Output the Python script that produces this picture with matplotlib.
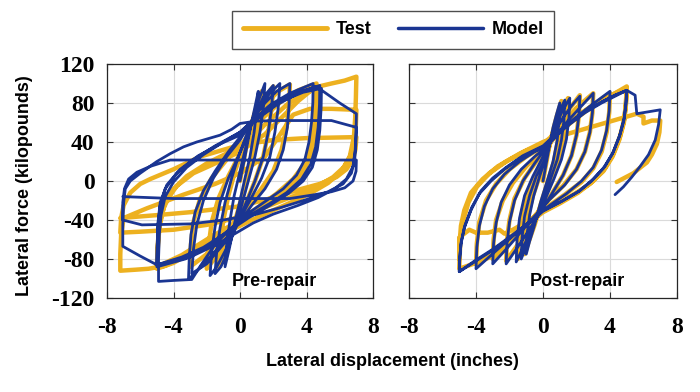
import matplotlib
matplotlib.use("Agg")
import matplotlib.pyplot as plt

plt.rcParams["axes.unicode_minus"] = False

# ---------------- data (x = inches, y = kips) ----------------
pre_test = [
    (0, 0),
    (0.4, 38), (0.8, 65), (1.3, 92), (1.2, 70), (1.0, 45), (0.7, 20), (0.3, -5), (-0.2, -35),
    (-0.7, -62), (-1.3, -88), (-1.2, -65), (-1.0, -40), (-0.7, -15), (-0.3, 10), (0.1, 30),
    (0.6, 55), (1.2, 78), (2.0, 97), (1.9, 75), (1.7, 50), (1.4, 25), (0.9, 0), (0.3, -25),
    (-0.4, -50), (-1.2, -72), (-2.0, -90), (-1.9, -68), (-1.7, -42), (-1.3, -18), (-0.7, 5), (0, 28),
    (0.7, 55), (1.6, 80), (2.3, 92), (3.0, 99), (2.95, 78), (2.8, 55), (2.5, 32), (2.0, 10),
    (1.2, -10), (0.2, -32), (-0.9, -55), (-2.0, -75), (-3.0, -88), (-2.95, -65), (-2.8, -42),
    (-2.4, -18), (-1.7, 3), (-0.8, 22), (0.2, 40),
    (1.2, 62), (2.5, 82), (3.5, 93), (4.6, 100), (4.55, 80), (4.45, 58), (4.25, 37), (3.9, 18),
    (3.2, 2), (2.2, -13), (1.0, -28), (-0.2, -42), (-1.5, -58), (-3.0, -74), (-4.0, -84), (-5.0, -90),
    (-4.95, -70), (-4.85, -48), (-4.6, -28), (-4.1, -10), (-3.2, 5), (-2.0, 18), (-0.6, 30), (0.5, 40),
    (1.5, 58), (2.8, 78), (3.8, 90), (4.7, 95), (4.65, 75), (4.55, 52), (4.3, 30), (3.9, 12),
    (3.2, -3), (2.2, -16), (1.0, -30), (-0.5, -45), (-2.0, -60), (-3.5, -76), (-5.0, -88),
    (-4.95, -66), (-4.85, -44), (-4.5, -22), (-3.8, -5), (-2.8, 8), (-1.5, 18), (0, 30),
    (1.5, 48), (2.5, 65), (3.5, 82), (4.5, 96), (5.5, 100), (6.3, 103), (7.0, 107),
    (6.97, 85), (6.93, 65), (6.85, 45), (6.6, 25), (6.1, 10), (5.3, -2), (4.2, -13), (2.8, -24),
    (1.2, -36), (-0.5, -50), (-2.0, -64), (-3.5, -78), (-4.5, -87), (-5.5, -90), (-6.3, -91),
    (-7.2, -92), (-7.2, -75), (-7.15, -55), (-7.0, -38), (-5.6, -28), (-3.4, -14), (-1.5, -3),
    (0, 8), (1.5, 25), (2.5, 50), (3.2, 68), (4.2, 74), (5.5, 74), (7.0, 73),
    (6.97, 58), (6.9, 43), (6.7, 28), (6.3, 15), (5.6, 4), (4.5, -7), (3.0, -17), (1.5, -27),
    (0, -37), (-2.0, -45), (-4.0, -50), (-6.0, -52), (-7.2, -53), (-7.15, -38), (-7.0, -25),
    (-6.6, -12), (-6.0, -3), (-5.4, 2), (-4.0, 12), (-2.4, 25), (-1.0, 32), (0, 37), (2.0, 42),
    (4.0, 44), (7.0, 45),
    (6.95, 33), (6.8, 22), (6.4, 12), (5.8, 4), (4.8, -3), (3.5, -9), (2.0, -17), (0, -26),
    (-3.0, -32), (-5.0, -35), (-7.2, -38),
]

pre_model = [
    (0, 0),
    (0.3, 25), (0.6, 52), (0.9, 76), (1.1, 92), (1.0, 72), (0.85, 50), (0.6, 25), (0.3, 3), (0, -20),
    (-0.35, -45), (-0.65, -70), (-0.9, -88), (-0.8, -65), (-0.6, -40), (-0.35, -15), (0, 10),
    (0.35, 35), (0.7, 60), (1.1, 82), (1.5, 100), (1.4, 75), (1.2, 50), (0.9, 25), (0.5, 0),
    (0.1, -25), (-0.35, -50), (-0.8, -75), (-1.15, -88), (-1.5, -95), (-1.4, -72), (-1.2, -48),
    (-0.9, -22), (-0.5, 3), (-0.1, 25),
    (0.4, 45), (0.9, 68), (1.4, 86), (2.0, 98), (1.9, 75), (1.7, 50), (1.4, 25), (0.9, 0),
    (0.3, -25), (-0.3, -50), (-0.9, -72), (-1.4, -88), (-1.8, -97), (-1.7, -72), (-1.5, -47),
    (-1.2, -22), (-0.7, 3), (-0.1, 25),
    (0.5, 52), (1.1, 74), (1.8, 90), (2.4, 100), (2.3, 75), (2.1, 50), (1.8, 25), (1.3, 3),
    (0.6, -20), (-0.2, -45), (-1.0, -65), (-2.0, -85), (-2.9, -95), (-2.8, -70), (-2.6, -45),
    (-2.2, -20), (-1.6, 3), (-0.8, 25), (0, 42),
    (0.7, 62), (1.5, 80), (2.2, 92), (3.0, 100), (2.95, 78), (2.85, 55), (2.6, 32), (2.2, 12),
    (1.5, -8), (0.7, -25), (0, -42), (-0.8, -58), (-1.8, -78), (-3.1, -101), (-3.05, -78),
    (-2.95, -55), (-2.7, -32), (-2.2, -10), (-1.5, 10), (-0.7, 30), (0, 45),
    (0.8, 62), (1.8, 78), (3.0, 90), (4.4, 100), (4.38, 80), (4.3, 60), (4.15, 40), (3.9, 22),
    (3.4, 6), (2.6, -8), (1.6, -20), (0.5, -33), (-0.5, -48), (-1.5, -65), (-2.3, -85),
    (-2.9, -101), (-4.0, -102), (-4.9, -103), (-4.9, -80), (-4.85, -55), (-4.75, -35), (-4.5, -16),
    (-4.0, -1), (-3.2, 14), (-2.2, 27), (-1.0, 40), (0, 50),
    (1.0, 66), (2.2, 80), (3.5, 91), (4.8, 98), (4.78, 78), (4.7, 55), (4.55, 35), (4.25, 17),
    (3.7, 2), (2.8, -12), (1.8, -23), (0.5, -36), (-0.8, -52), (-2.0, -68), (-3.3, -80), (-5.0, -88),
    (-4.98, -68), (-4.93, -45), (-4.8, -25), (-4.5, -8), (-3.8, 8), (-2.8, 22), (-1.5, 36), (0, 50),
    (1.2, 68), (2.5, 82), (3.8, 91), (4.9, 95), (4.88, 75), (4.8, 52), (4.65, 32), (4.35, 14),
    (3.8, 0), (2.9, -13), (1.8, -25), (0.5, -38), (-1.0, -55), (-2.2, -68), (-3.5, -78), (-5.0, -86),
    (-4.98, -65), (-4.93, -42), (-4.8, -22), (-4.4, -4), (-3.6, 12), (-2.5, 26), (-1.2, 38), (0, 47),
    (1.0, 63), (2.2, 78), (3.5, 90), (4.6, 97), (5.0, 92), (6.0, 80), (7.0, 69), (6.98, 50),
    (6.93, 32), (6.8, 15), (6.4, 2), (5.7, -8), (4.7, -17), (3.5, -25), (2.0, -34), (0.8, -43),
    (-0.4, -55), (-1.5, -66), (-3.0, -78), (-5.0, -86), (-6.0, -77), (-7.05, -67),
    (-7.05, -45), (-7.02, -25), (-6.9, -8), (-6.6, 0), (-6.0, 8), (-5.0, 20), (-4.2, 28),
    (-3.4, 35), (-2.6, 40), (-1.2, 47), (-0.5, 53), (0, 59), (1.0, 61.5), (2.5, 62), (5.5, 62),
    (7.0, 55), (6.97, 38), (6.9, 22), (6.7, 8), (6.2, -3), (5.3, -11), (4.0, -19), (2.5, -27),
    (1.0, -34), (-1.0, -40), (-3.0, -44), (-5.9, -45), (-7.05, -40), (-7.05, -22), (-6.95, -8),
    (-6.7, 2), (-6.2, 9), (-5.4, 15), (-4.2, 21.5), (0, 21.5), (4.0, 21.5), (7.0, 21.5),
    (6.98, 10), (6.8, 0), (6.3, -7), (5.5, -11), (4.5, -14), (3.0, -18), (0, -18), (-4.0, -18),
    (-7.05, -16),
]

post_test = [
    (0, 0),
    (0.4, 38), (0.8, 65), (1.1, 82), (1.05, 62), (0.9, 42), (0.65, 20), (0.3, 0), (-0.1, -22),
    (-0.5, -45), (-0.85, -62), (-1.1, -75), (-1.05, -55), (-0.9, -35), (-0.6, -15), (-0.2, 5), (0.2, 25),
    (0.6, 50), (1.0, 70), (1.5, 85), (1.45, 65), (1.3, 43), (1.0, 22), (0.55, 2), (0, -20),
    (-0.5, -42), (-1.0, -62), (-1.5, -80), (-1.45, -58), (-1.3, -36), (-1.0, -15), (-0.5, 5), (0.1, 25),
    (0.7, 50), (1.4, 70), (2.2, 88), (2.15, 68), (2.0, 47), (1.7, 26), (1.2, 6), (0.5, -14),
    (-0.3, -35), (-1.2, -58), (-2.2, -82), (-2.15, -60), (-2.0, -40), (-1.7, -18), (-1.1, 3),
    (-0.4, 20), (0.2, 35),
    (1.0, 55), (2.0, 75), (3.0, 90), (2.95, 70), (2.8, 50), (2.5, 30), (2.0, 12), (1.2, -5),
    (0.3, -20), (-0.6, -38), (-1.5, -55), (-2.3, -68), (-3.0, -80), (-2.95, -60), (-2.8, -40),
    (-2.4, -20), (-1.8, -2), (-1.0, 15), (0, 32),
    (1.0, 50), (2.0, 65), (3.0, 78), (4.0, 90), (3.95, 70), (3.8, 50), (3.5, 30), (3.0, 13),
    (2.3, -1), (1.3, -14), (0.3, -26), (-0.7, -40), (-1.8, -57), (-3.0, -72), (-4.0, -85),
    (-3.95, -64), (-3.8, -42), (-3.4, -20), (-2.8, -3), (-2.0, 12), (-1.0, 25), (0, 35),
    (0.8, 48), (1.8, 62), (3.0, 77), (4.2, 89), (5.0, 97), (4.95, 80), (4.85, 63), (4.6, 46),
    (4.2, 28), (3.7, 13), (3.0, 0), (2.1, -12), (1.0, -23), (0, -32), (-1.0, -45), (-2.0, -58),
    (-3.0, -77), (-4.0, -84), (-5.0, -90), (-4.97, -75), (-4.92, -58), (-4.75, -40), (-4.45, -22),
    (-3.95, -6), (-3.2, 8), (-2.2, 20), (-1.0, 31), (0, 38),
    (0.8, 50), (1.8, 64), (3.0, 78), (4.2, 89), (5.0, 95), (4.95, 78), (4.83, 60), (4.55, 42),
    (4.15, 25), (3.6, 10), (2.8, -3), (1.8, -14), (0.8, -24), (0, -31), (-1.0, -42), (-1.8, -50),
    (-2.3, -54), (-2.6, -50), (-3.3, -53), (-4.0, -53), (-4.4, -50), (-5.0, -58), (-5.0, -80),
    (-4.97, -62), (-4.9, -46), (-4.7, -30), (-4.3, -12), (-3.6, 2), (-2.7, 15), (-1.4, 28), (0, 40),
    (1.0, 46), (2.0, 51), (3.0, 56), (4.0, 61), (5.0, 66), (5.6, 69), (6.0, 66), (6.0, 59),
    (6.5, 62), (7.0, 62), (6.95, 50), (6.8, 38), (6.5, 27), (6.2, 19), (5.9, 15), (5.4, 8), (4.4, -1),
]

post_model = [
    (0, 0),
    (0.3, 28), (0.6, 55), (0.8, 68), (1.0, 80), (0.95, 62), (0.85, 42), (0.6, 20), (0.25, 0),
    (-0.15, -22), (-0.5, -45), (-0.8, -62), (-1.0, -75), (-0.95, -55), (-0.8, -35), (-0.55, -15),
    (-0.2, 5), (0.1, 20),
    (0.5, 45), (0.9, 68), (1.3, 83), (1.25, 62), (1.1, 42), (0.85, 22), (0.45, 2), (0, -20),
    (-0.5, -42), (-0.95, -65), (-1.3, -80), (-1.25, -58), (-1.1, -36), (-0.8, -15), (-0.4, 5), (0.1, 22),
    (0.6, 48), (1.1, 70), (1.6, 85), (1.55, 65), (1.4, 43), (1.1, 22), (0.65, 2), (0.1, -20),
    (-0.5, -42), (-1.1, -65), (-1.6, -83), (-1.55, -60), (-1.4, -38), (-1.1, -15), (-0.6, 5), (0, 25),
    (0.6, 48), (1.2, 65), (1.7, 77), (2.2, 87), (2.15, 68), (2.0, 47), (1.7, 26), (1.2, 6),
    (0.5, -14), (-0.2, -33), (-0.9, -52), (-1.6, -70), (-2.2, -85), (-2.15, -64), (-2.0, -42),
    (-1.7, -20), (-1.2, 0), (-0.5, 18), (0, 30),
    (0.7, 45), (1.5, 62), (2.3, 77), (3.0, 90), (2.95, 70), (2.8, 50), (2.5, 30), (2.0, 12),
    (1.3, -4), (0.4, -19), (-0.5, -36), (-1.3, -52), (-2.1, -68), (-3.0, -85), (-2.95, -64),
    (-2.8, -43), (-2.5, -22), (-2.0, -4), (-1.3, 12), (-0.5, 25), (0, 32),
    (0.8, 46), (1.8, 63), (2.9, 78), (4.0, 92), (3.95, 72), (3.8, 52), (3.5, 32), (3.0, 14),
    (2.3, 0), (1.4, -13), (0.4, -25), (-0.5, -37), (-1.5, -52), (-2.7, -70), (-4.0, -90),
    (-3.95, -68), (-3.8, -46), (-3.5, -26), (-3.0, -8), (-2.3, 7), (-1.4, 20), (-0.5, 30), (0, 34),
    (0.7, 46), (1.5, 57), (2.5, 70), (3.5, 80), (4.3, 87), (5.0, 93), (4.95, 80), (4.85, 65),
    (4.6, 48), (4.2, 30), (3.7, 15), (3.0, 2), (2.2, -10), (1.2, -20), (0, -30), (-0.8, -42),
    (-1.8, -55), (-3.0, -70), (-4.0, -81), (-5.0, -93), (-4.97, -80), (-4.9, -65), (-4.7, -48),
    (-4.3, -30), (-3.8, -13), (-3.1, 0), (-2.3, 12), (-1.3, 24), (0, 35),
    (0.7, 47), (1.5, 58), (2.5, 71), (3.5, 81), (4.3, 88), (5.0, 93), (4.95, 78), (4.83, 62),
    (4.55, 45), (4.15, 28), (3.6, 13), (2.9, 0), (2.1, -11), (1.1, -21), (0, -31), (-0.8, -43),
    (-1.8, -56), (-3.0, -71), (-4.0, -82), (-5.0, -93), (-4.97, -78), (-4.88, -62), (-4.65, -45),
    (-4.25, -27), (-3.7, -10), (-3.0, 3), (-2.2, 14), (-1.2, 26), (0, 36),
    (0.7, 47), (1.5, 58), (2.5, 71), (3.5, 81), (4.3, 88), (5.0, 93), (5.5, 88), (5.6, 69),
    (7.0, 73), (6.9, 58), (6.7, 42), (6.3, 27), (5.8, 15), (5.3, 4), (4.8, -6), (4.3, -14),
]

x_ticks = [-8, -4, 0, 4, 8]
y_ticks = [-120, -80, -40, 0, 40, 80, 120]
panel_labels = ["Pre-repair", "Post-repair"]
series_names = ["Test", "Model"]

# ---------------- styling ----------------
YELLOW = "#EDB120"
BLUE = "#1A3592"
SERIF = ["Liberation Serif", "DejaVu Serif"]
SANS = ["Liberation Sans", "DejaVu Sans"]

fig = plt.figure(figsize=(7, 3.92), dpi=100)
ax1 = fig.add_axes([107 / 700, 94 / 392, 266 / 700, 234 / 392])
ax2 = fig.add_axes([409 / 700, 94 / 392, 268 / 700, 234 / 392])

handles = []
for ax, test, model, label, lx in [(ax1, pre_test, pre_model, panel_labels[0], -0.5),
                                   (ax2, post_test, post_model, panel_labels[1], -0.8)]:
    tx, ty = zip(*test)
    mx, my = zip(*model)
    h1, = ax.plot(tx, ty, color=YELLOW, lw=3.2, solid_joinstyle="round",
                  solid_capstyle="round", zorder=2)
    h2, = ax.plot(mx, my, color=BLUE, lw=2.0, solid_joinstyle="round",
                  solid_capstyle="round", zorder=3)
    handles = [h1, h2]
    ax.set_xlim(-8, 8)
    ax.set_ylim(-120, 120)
    ax.set_xticks(x_ticks)
    ax.set_yticks(y_ticks)
    ax.grid(True, color="#dadada", lw=0.8, zorder=0)
    ax.set_axisbelow(True)
    ax.tick_params(direction="in", top=True, right=True, length=4, width=0.8,
                   color="#333333", pad=14)
    for s in ax.spines.values():
        s.set_color("#262626")
        s.set_linewidth(0.9)
    for t in ax.get_xticklabels() + ax.get_yticklabels():
        t.set_fontfamily(SERIF)
        t.set_fontweight("bold")
        t.set_fontsize(17)
    ax.text(lx, -107.5, label, ha="left", va="baseline",
            fontsize=13, fontweight="bold", family=SANS, zorder=5)

ax1.tick_params(axis="y", pad=9)
ax2.tick_params(axis="y", labelleft=False)

fig.text(392 / 700, 1 - 361 / 392, "Lateral displacement (inches)", ha="center", va="center",
         fontsize=13, fontweight="bold", family=SANS)
fig.text(25 / 700, 1 - 186 / 392, "Lateral force (kilopounds)", ha="center", va="center",
         rotation=90, fontsize=13, fontweight="bold", family=SANS)

leg = fig.legend(handles, series_names, loc="center", bbox_to_anchor=(393 / 700, 1 - 30 / 392),
                 ncol=2, frameon=True, fancybox=False, edgecolor="#222222",
                 prop={"family": SANS, "weight": "bold", "size": 13},
                 handlelength=4.7, handletextpad=0.45, columnspacing=1.5, borderpad=0.6)
leg.get_frame().set_linewidth(1.0)
leg.legend_handles[0].set_linewidth(3.5)
leg.legend_handles[1].set_linewidth(2.5)

fig.savefig("out.png", dpi=100)
